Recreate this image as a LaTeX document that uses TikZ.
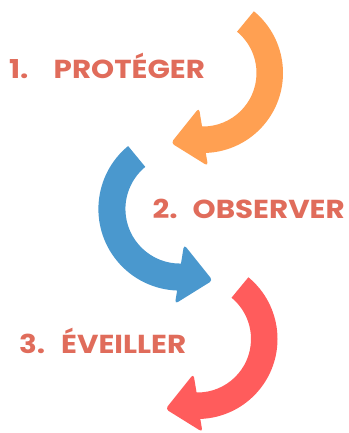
\documentclass[tikz,border=0pt]{standalone}
\usepackage{fontspec}
\setmainfont{Poppins}
\newfontfamily\labelfont[FakeStretch=1.13]{Poppins}
\definecolor{arrorange}{RGB}{255,160,82}
\definecolor{arrblue}{RGB}{74,152,206}
\definecolor{arrred}{RGB}{255,92,92}
\definecolor{labelred}{RGB}{224,108,91}
\tikzset{
  curvarrow/.pic={
    \fill[pic actions] (-50.5:80) arc[start angle=-50.5, end angle=88, radius=80]
      [rounded corners=3.5pt] -- (5,93) -- (-32,70) -- (-4,35)
      [sharp corners] -- (91:53.5) arc[start angle=91, end angle=-50.5, radius=53.5] -- cycle;
  },
  steplabel/.style={anchor=base west, inner sep=0pt, text=labelred,
    font=\labelfont\fontsize{26}{30}\selectfont\bfseries}
}
\begin{document}
\begin{tikzpicture}[x=1pt,y=1pt]
\useasboundingbox (0,0) rectangle (348,433);
\pic[fill=arrorange, yscale=-1] (a1) at (203,360) {curvarrow};
\pic[fill=arrblue, xscale=-1.02, yscale=-1.02] (a2) at (180,224) {curvarrow};
\pic[fill=arrred, yscale=-1] (a3) at (197.5,94) {curvarrow};
\node[steplabel] (n1) at (9,354.7) {1.};
\node[steplabel] (l1) at (53.5,354.7) {PROTÉGER};
\node[steplabel] (n2) at (152.5,214.7) {2.};
\node[steplabel] (l2) at (192.5,214.7) {OBSERVER};
\node[steplabel] (n3) at (19,79.7) {3.};
\node[steplabel] (l3) at (61,79.7) {ÉVEILLER};
\end{tikzpicture}
\end{document}
